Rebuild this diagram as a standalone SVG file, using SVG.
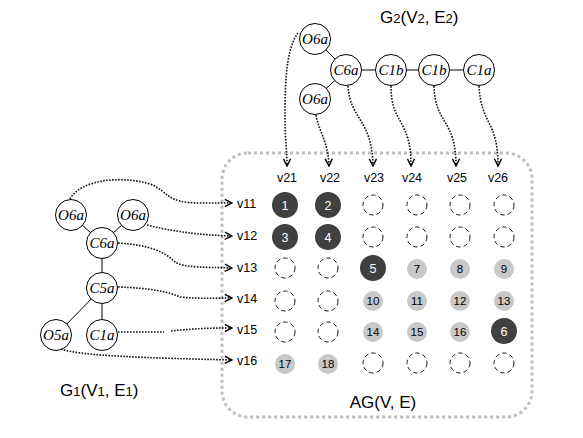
<svg xmlns="http://www.w3.org/2000/svg" width="583" height="438" viewBox="0 0 583 438">
<defs>
<style>
.node circle{fill:#fff;stroke:#000;stroke-width:1}
.node text{font-family:"Liberation Serif",serif;font-style:italic;font-size:15px;text-anchor:middle}
.edge{stroke:#000;stroke-width:1;fill:none}
.link{stroke:#111;stroke-width:1.6;fill:none;stroke-dasharray:1.6 1.4}
.lbl{font-family:"Liberation Sans",Arial,sans-serif;font-size:12.5px;fill:#000}
.cap{font-family:"Liberation Sans",Arial,sans-serif;font-size:17px;fill:#000}
.dk{fill:#404040}
.gy{fill:#c8c8c8}
.em{fill:#fff;stroke:#000;stroke-width:0.9;stroke-dasharray:4.5 3}
.nw{font-family:"Liberation Sans",Arial,sans-serif;font-size:12.5px;fill:#fff;text-anchor:middle}
.nb{font-family:"Liberation Sans",Arial,sans-serif;font-size:11.5px;fill:#000;text-anchor:middle}
</style>
<marker id="ah" viewBox="0 0 10 10" refX="9" refY="5" markerWidth="9" markerHeight="9" markerUnits="userSpaceOnUse" orient="auto">
<path d="M1,1 L9,5 L1,9" fill="none" stroke="#000" stroke-width="1.6"/>
</marker>
</defs>
<rect width="583" height="438" fill="#fff"/>

<g id="ag-box">
<rect x="222" y="153" width="310" height="264" rx="26" ry="26" fill="none" stroke="#bdbdbd" stroke-width="3" stroke-dasharray="3 3"/>
<text class="cap" x="383" y="408" text-anchor="middle">AG(V, E)</text>
</g>

<g id="g1-edges">
<line class="edge" x1="71" y1="215" x2="102" y2="243"/>
<line class="edge" x1="133" y1="215" x2="102" y2="243"/>
<line class="edge" x1="102" y1="243" x2="102" y2="288"/>
<line class="edge" x1="102" y1="288" x2="56" y2="335"/>
<line class="edge" x1="102" y1="288" x2="102" y2="335"/>
</g>
<g id="g1-O6a-l" class="node"><circle cx="71" cy="215" r="15.5"/><text x="71" y="220">O6a</text></g>
<g id="g1-O6a-r" class="node"><circle cx="133" cy="215" r="15.5"/><text x="133" y="220">O6a</text></g>
<g id="g1-C6a" class="node"><circle cx="102" cy="243" r="15.5"/><text x="102" y="248">C6a</text></g>
<g id="g1-C5a" class="node"><circle cx="102" cy="288" r="15.5"/><text x="102" y="293">C5a</text></g>
<g id="g1-O5a" class="node"><circle cx="56" cy="335" r="15.5"/><text x="56" y="340">O5a</text></g>
<g id="g1-C1a" class="node"><circle cx="102" cy="335" r="15.5"/><text x="102" y="340">C1a</text></g>
<text id="g1-label" class="cap" x="60" y="396">G<tspan font-size="13">1</tspan>(V<tspan font-size="13">1</tspan>, E<tspan font-size="13">1</tspan>)</text>

<g id="g2-edges">
<line class="edge" x1="315" y1="39" x2="346" y2="70"/>
<line class="edge" x1="315" y1="99" x2="346" y2="70"/>
<line class="edge" x1="346" y1="70" x2="479" y2="70"/>
</g>
<g id="g2-O6a-t" class="node"><circle cx="315" cy="39" r="15.5"/><text x="315" y="44">O6a</text></g>
<g id="g2-O6a-b" class="node"><circle cx="315" cy="99" r="15.5"/><text x="315" y="104">O6a</text></g>
<g id="g2-C6a" class="node"><circle cx="346" cy="70" r="15.5"/><text x="346" y="75">C6a</text></g>
<g id="g2-C1b-1" class="node"><circle cx="391" cy="70" r="15.5"/><text x="391" y="75">C1b</text></g>
<g id="g2-C1b-2" class="node"><circle cx="434" cy="70" r="15.5"/><text x="434" y="75">C1b</text></g>
<g id="g2-C1a" class="node"><circle cx="479" cy="70" r="15.5"/><text x="479" y="75">C1a</text></g>
<text id="g2-label" class="cap" x="380" y="23">G<tspan font-size="13">2</tspan>(V<tspan font-size="13">2</tspan>, E<tspan font-size="13">2</tspan>)</text>

<g id="connectors">
<path class="link" marker-end="url(#ah)" d="M298,33 C285,50 285,90 285,120 C285,140 287,150 287,166"/>
<path class="link" marker-end="url(#ah)" d="M316,115 C318,130 328,140 329,166"/>
<path class="link" marker-end="url(#ah)" d="M348,86 C350,120 372,118 373,166"/>
<path class="link" marker-end="url(#ah)" d="M391,86 C391,125 411,118 411,166"/>
<path class="link" marker-end="url(#ah)" d="M434,86 C435,125 456,118 456,166"/>
<path class="link" marker-end="url(#ah)" d="M479,86 C481,125 498,120 498,166"/>
<path class="link" marker-end="url(#ah)" d="M70,199 C80,180 120,175 150,184 C170,192 165,203 200,203 L232,203"/>
<path class="link" marker-end="url(#ah)" d="M147,225 C175,232 200,235 232,236"/>
<path class="link" marker-end="url(#ah)" d="M118,243 C150,245 165,252 175,262 C185,268 205,267 232,268"/>
<path class="link" marker-end="url(#ah)" d="M118,287 C150,288 170,292 180,297 C200,299 215,298 232,298"/>
<path class="link" marker-end="url(#ah)" d="M118,332 L164,332 M171,331 C200,328 215,328 232,328"/>
<path class="link" marker-end="url(#ah)" d="M61,349 C80,356 150,358 232,360"/>
</g>

<g id="col-labels" class="lbl" text-anchor="middle">
<text x="287" y="182">v21</text>
<text x="330" y="182">v22</text>
<text x="374" y="182">v23</text>
<text x="412" y="182">v24</text>
<text x="457" y="182">v25</text>
<text x="498" y="182">v26</text>
</g>
<g id="row-labels" class="lbl">
<text x="237" y="208">v11</text>
<text x="237" y="240">v12</text>
<text x="237" y="272">v13</text>
<text x="237" y="303">v14</text>
<text x="237" y="334">v15</text>
<text x="237" y="365">v16</text>
</g>

<g id="grid">
<g id="r1">
<circle class="dk" cx="285" cy="205" r="13"/><text class="nw" x="285" y="209.5">1</text>
<circle class="dk" cx="328" cy="205" r="13"/><text class="nw" x="328" y="209.5">2</text>
<circle class="em" cx="373" cy="205" r="10"/>
<circle class="em" cx="417" cy="205" r="10"/>
<circle class="em" cx="460" cy="205" r="10"/>
<circle class="em" cx="504" cy="205" r="10"/>
</g>
<g id="r2">
<circle class="dk" cx="285" cy="237" r="13"/><text class="nw" x="285" y="241.5">3</text>
<circle class="dk" cx="328" cy="237" r="13"/><text class="nw" x="328" y="241.5">4</text>
<circle class="em" cx="373" cy="237" r="10"/>
<circle class="em" cx="417" cy="237" r="10"/>
<circle class="em" cx="460" cy="237" r="10"/>
<circle class="em" cx="504" cy="237" r="10"/>
</g>
<g id="r3">
<circle class="em" cx="285" cy="268" r="10"/>
<circle class="em" cx="328" cy="268" r="10"/>
<circle class="dk" cx="373" cy="268" r="13"/><text class="nw" x="373" y="272.5">5</text>
<circle class="gy" cx="417" cy="269" r="10"/><text class="nb" x="417" y="273">7</text>
<circle class="gy" cx="460" cy="269" r="10"/><text class="nb" x="460" y="273">8</text>
<circle class="gy" cx="504" cy="269" r="10"/><text class="nb" x="504" y="273">9</text>
</g>
<g id="r4">
<circle class="em" cx="285" cy="301" r="10"/>
<circle class="em" cx="328" cy="301" r="10"/>
<circle class="gy" cx="373" cy="301" r="10"/><text class="nb" x="373" y="305">10</text>
<circle class="gy" cx="417" cy="301" r="10"/><text class="nb" x="417" y="305">11</text>
<circle class="gy" cx="460" cy="301" r="10"/><text class="nb" x="460" y="305">12</text>
<circle class="gy" cx="504" cy="301" r="10"/><text class="nb" x="504" y="305">13</text>
</g>
<g id="r5">
<circle class="em" cx="285" cy="332" r="10"/>
<circle class="em" cx="328" cy="332" r="10"/>
<circle class="gy" cx="373" cy="332" r="10"/><text class="nb" x="373" y="336">14</text>
<circle class="gy" cx="417" cy="332" r="10"/><text class="nb" x="417" y="336">15</text>
<circle class="gy" cx="460" cy="332" r="10"/><text class="nb" x="460" y="336">16</text>
<circle class="dk" cx="504" cy="331" r="13"/><text class="nw" x="504" y="335.5">6</text>
</g>
<g id="r6">
<circle class="gy" cx="285" cy="364" r="10"/><text class="nb" x="285" y="368">17</text>
<circle class="gy" cx="328" cy="364" r="10"/><text class="nb" x="328" y="368">18</text>
<circle class="em" cx="373" cy="363" r="10"/>
<circle class="em" cx="417" cy="363" r="10"/>
<circle class="em" cx="460" cy="363" r="10"/>
<circle class="em" cx="504" cy="363" r="10"/>
</g>
</g>
</svg>
